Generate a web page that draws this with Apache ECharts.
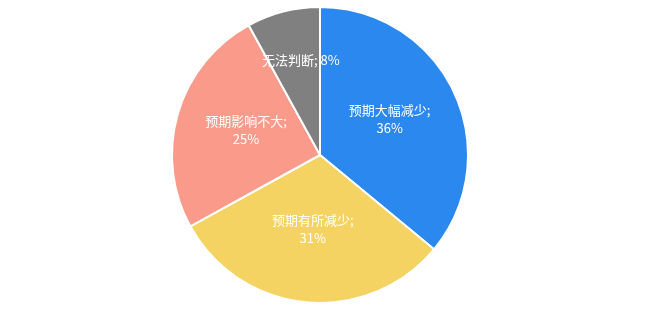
<!DOCTYPE html>
<html>
<head>
<meta charset="utf-8">
<script src="https://cdn.jsdelivr.net/npm/echarts@6/dist/echarts.min.js"></script>
<style>
  html, body { margin: 0; padding: 0; background: #ffffff; }
  #chart { width: 667px; height: 312px; }
</style>
</head>
<body>
<div id="chart"></div>
<script>
// Share of respondents by expected change
const categories = ['预期大幅减少', '预期有所减少', '预期影响不大', '无法判断'];
const shares = [36, 31, 25, 8];
const colors = ['#2A88EF', '#F4D362', '#F99A8A', '#808080'];

const chart = echarts.init(document.getElementById('chart'), null, { renderer: 'canvas' });

const data = categories.map((name, i) => {
  const item = { name: name, value: shares[i], itemStyle: { color: colors[i] } };
  // the smallest slice carries its label further out on a single line
  if (shares[i] < 10) item.label = { offset: [0, -20] };
  return item;
});

chart.setOption({
  animation: false,
  series: [{
    type: 'pie',
    center: [320, 155],
    radius: 148,
    startAngle: 90,
    clockwise: true,
    data: data,
    itemStyle: { borderColor: '#ffffff', borderWidth: 2 },
    label: {
      show: true,
      position: 'inside',
      color: '#ffffff',
      fontSize: 13,
      lineHeight: 18,
      offset: [0, -3],
      fontFamily: '"Noto Sans CJK SC", sans-serif',
      formatter: p => p.value < 10 ? p.name + '; ' + p.value + '%' : p.name + ';\n' + p.value + '%'
    },
    labelLine: { show: false }
  }]
});
</script>
</body>
</html>
